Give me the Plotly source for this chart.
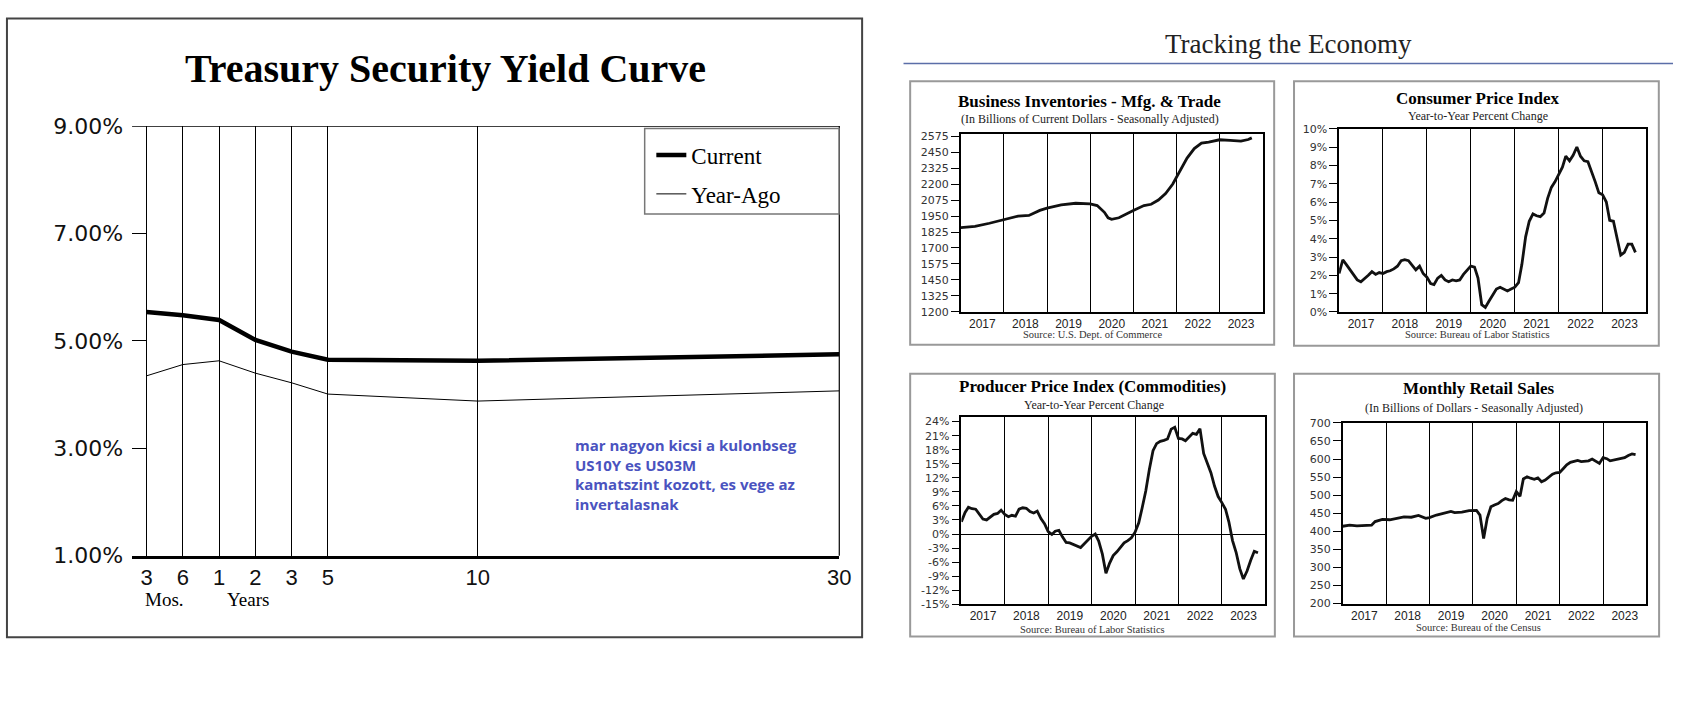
import plotly.graph_objects as go

W, H = 1685, 706


def px(x):
    return x / W


def py(y):
    return 1 - y / H


# ---- yield curve data
maturity_labels = ['3', '6', '1', '2', '3', '5', '10', '30']
maturity_slots = [0, 1, 2, 3, 4, 5, 9.13, 19.1]   # spacing of the original (non linear) maturity axis
yield_current = [5.54, 5.48, 5.39, 5.02, 4.80, 4.65, 4.63, 4.75]
yield_year_ago = [4.35, 4.56, 4.63, 4.40, 4.22, 4.01, 3.88, 4.07]
yield_ticks = [1, 3, 5, 7, 9]

# ---- tracking the economy
year_labels = ['2017', '2018', '2019', '2020', '2021', '2022', '2023']
year_mid = [y + '-07-02' for y in year_labels]
year_starts = [y + '-01-01' for y in year_labels[1:]]

inv_ticks = list(range(1200, 2576, 125))
cpi_ticks = list(range(0, 11))
ppi_ticks = list(range(-15, 25, 3))
retail_ticks = list(range(200, 701, 50))

inv_dates = ['2017-01', '2017-05', '2017-09', '2018-01', '2018-05', '2018-08', '2018-11',
             '2019-01', '2019-05', '2019-09', '2020-01', '2020-03', '2020-05', '2020-06',
             '2020-07', '2020-09', '2020-11', '2021-01', '2021-04', '2021-06', '2021-08',
             '2021-10', '2021-12', '2022-02', '2022-04', '2022-06', '2022-08', '2022-10',
             '2023-01', '2023-04', '2023-07', '2023-09', '2023-10']
inv_values = [1860, 1870, 1894, 1925, 1950, 1955, 1995,
              2013, 2038, 2051, 2046, 2033, 1980, 1937,
              1925, 1937, 1968, 1995, 2033, 2043, 2076,
              2127, 2202, 2309, 2405, 2480, 2523, 2531,
              2549, 2544, 2538, 2551, 2564]

monthly = [f'{y}-{m:02d}' for y in range(2017, 2024) for m in range(1, 13)]

cpi_dates = monthly[:82]
cpi_values = [2.1, 2.85, 2.6, 2.3, 2.0, 1.75, 1.65, 1.8, 2.0, 2.2, 2.05, 2.15,
              2.1, 2.2, 2.25, 2.35, 2.5, 2.8, 2.85, 2.8, 2.55, 2.3, 2.5, 2.1,
              1.9, 1.55, 1.5, 1.85, 2.0, 1.75, 1.65, 1.75, 1.7, 1.75, 2.05, 2.3,
              2.5, 2.45, 1.85, 0.4, 0.25, 0.6, 0.95, 1.25, 1.35, 1.25, 1.15, 1.25,
              1.35, 1.6, 2.6, 4.1, 4.95, 5.35, 5.25, 5.2, 5.4, 6.2, 6.8, 7.1,
              7.5, 7.9, 8.5, 8.25, 8.55, 9.0, 8.5, 8.25, 8.2, 7.7, 7.1, 6.5,
              6.4, 6.0, 5.0, 4.95, 4.1, 3.1, 3.25, 3.7, 3.7, 3.25]

ppi_dates = monthly[:83]
ppi_values = [2.6, 4.6, 5.7, 5.4, 5.3, 4.2, 3.2, 3.0, 3.7, 4.2, 4.4, 5.1,
              4.2, 3.7, 4.0, 3.8, 5.3, 5.6, 5.5, 4.8, 4.5, 4.9, 3.3, 2.2,
              0.5, -0.1, 0.6, 0.8, -0.6, -1.8, -1.9, -2.2, -2.6, -2.9, -2.1, -1.2,
              -0.5, 0.0, -1.5, -4.3, -8.4, -6.2, -4.6, -3.8, -2.8, -1.9, -1.4, -0.8,
              0.4, 2.4, 5.5, 9.2, 13.8, 17.8, 19.3, 19.8, 20.0, 20.3, 22.4, 22.8,
              20.4, 20.3, 19.9, 20.8, 21.5, 21.3, 22.5, 17.2, 15.3, 13.1, 10.2, 8.0,
              6.7, 5.3, 2.6, -1.4, -3.9, -7.4, -9.6, -7.9, -5.6, -3.7, -4.0]

retail_dates = ['2017-01', '2017-03', '2017-05', '2017-07', '2017-09', '2017-10', '2017-12',
                '2018-02', '2018-04', '2018-06', '2018-08', '2018-10', '2018-12',
                '2019-01', '2019-03', '2019-05', '2019-07', '2019-08', '2019-10', '2019-12',
                '2020-02', '2020-03', '2020-04', '2020-05', '2020-06', '2020-07', '2020-08',
                '2020-09', '2020-10', '2020-11', '2020-12',
                '2021-01', '2021-02', '2021-03', '2021-04', '2021-05', '2021-06', '2021-07',
                '2021-08', '2021-09', '2021-10', '2021-11', '2021-12',
                '2022-01', '2022-02', '2022-03', '2022-04', '2022-05', '2022-06', '2022-07',
                '2022-08', '2022-09', '2022-10', '2022-11', '2022-12',
                '2023-01', '2023-02', '2023-03', '2023-04', '2023-05', '2023-06', '2023-07',
                '2023-08', '2023-09', '2023-10']
retail_values = [414, 417, 415, 415, 417, 427, 433,
                 432, 436, 440, 439, 444, 436,
                 438, 445, 449, 455, 452, 453, 457,
                 458, 445, 380, 436, 468, 473, 477,
                 485, 491, 487, 486,
                 510, 497, 545, 551, 547, 544, 548,
                 537, 542, 551, 558, 562,
                 563, 574, 584, 591, 594, 596, 593,
                 595, 595, 600, 593, 588,
                 604, 601, 595, 597, 598, 600, 604,
                 610, 614, 612]

fig = go.Figure()

# yield curve lines
fig.add_trace(go.Scatter(x=maturity_slots, y=yield_current, mode='lines', name='Current',
                         line=dict(color='black', width=4.5), legendgroup='a',
                         xaxis='x', yaxis='y'))
fig.add_trace(go.Scatter(x=maturity_slots, y=yield_year_ago, mode='lines', name='Year-Ago',
                         line=dict(color='black', width=1), legendgroup='b',
                         xaxis='x', yaxis='y'))

small = [
    (inv_dates, inv_values, 2),
    (cpi_dates, cpi_values, 3),
    (ppi_dates, ppi_values, 4),
    (retail_dates, retail_values, 5),
]
for dts, vals, k in small:
    fig.add_trace(go.Scatter(x=dts, y=vals, mode='lines', showlegend=False,
                             line=dict(color='#111', width=2.8),
                             xaxis='x%d' % k, yaxis='y%d' % k))

tick_font = dict(family='DejaVu Sans', size=11, color='#333')
year_font = dict(family='Liberation Sans', size=12, color='#222')


def year_axis(dom, anchor):
    return dict(domain=[px(dom[0]), px(dom[1])], type='date', anchor=anchor,
                range=['2017-01-01', '2024-01-01'],
                tickmode='array', tickvals=year_mid, ticktext=year_labels,
                ticks='', showgrid=False, zeroline=False,
                showline=True, mirror=True, linecolor='black', linewidth=1.5,
                minor=dict(tickmode='array', tickvals=year_starts, showgrid=True,
                           gridcolor='black', gridwidth=1.2, ticks=''),
                tickfont=year_font)


def value_axis(dom, anchor, rng, vals, suffix=''):
    return dict(domain=[py(dom[1]), py(dom[0])], anchor=anchor, range=rng,
                tickmode='array', tickvals=vals, ticktext=[f'{v}{suffix}' for v in vals],
                ticks='outside', ticklen=8, tickcolor='black',
                showgrid=False, zeroline=False,
                showline=True, mirror=True, linecolor='black', linewidth=1.5,
                tickfont=tick_font)


layout = dict(
    width=W, height=H,
    margin=dict(l=0, r=0, t=0, b=0),
    paper_bgcolor='white', plot_bgcolor='white',
    showlegend=True,
    legend=dict(x=px(656), y=py(126), xanchor='left', yanchor='top',
                bgcolor='rgba(0,0,0,0)', borderwidth=0, tracegroupgap=6,
                font=dict(family='Liberation Serif', size=23, color='black'),
                itemwidth=30),
    xaxis=dict(domain=[px(133), px(845.3)], range=[-0.4, 19.1], anchor='y',
               tickmode='array', tickvals=maturity_slots, ticktext=maturity_labels,
               ticks='', showgrid=True, gridcolor='black', gridwidth=1, zeroline=False,
               showline=True, linecolor='black', linewidth=3,
               tickfont=dict(family='Liberation Sans', size=22, color='#111')),
    yaxis=dict(domain=[py(563.7), py(118.3)], range=[1, 9], anchor='x',
               tickmode='array', tickvals=yield_ticks,
               ticktext=[f'{v:.2f}%' for v in yield_ticks],
               ticks='inside', ticklen=15, tickcolor='black', ticklabelstandoff=8,
               showgrid=False, zeroline=False, showline=False,
               tickfont=dict(family='DejaVu Sans', size=22, color='#111')),
    xaxis2=year_axis((967.7, 1271.7), 'y2'),
    yaxis2=value_axis((126, 310.7), 'x2', [1200, 2598], inv_ticks),
    xaxis3=year_axis((1348.7, 1658.3), 'y3'),
    yaxis3=value_axis((121, 311), 'x3', [0, 10], cpi_ticks, '%'),
    xaxis4=year_axis((968.3, 1274.3), 'y4'),
    yaxis4=value_axis((420.3, 614), 'x4', [-15, 24.9], ppi_ticks, '%'),
    xaxis5=year_axis((1352.3, 1658.3), 'y5'),
    yaxis5=value_axis((426, 613.3), 'x5', [200, 700], retail_ticks),
)
layout['yaxis4'].update(zeroline=True, zerolinecolor='black', zerolinewidth=1.2)
fig.update_layout(**layout)

shapes = []
# left panel frame
shapes.append(dict(type='rect', xref='paper', yref='paper', x0=px(7), x1=px(868.3),
                   y0=py(648.3), y1=py(6.7), line=dict(color='#444', width=2)))
# top and right border of the yield plot
shapes.append(dict(type='line', xref='x domain', yref='y', x0=0, x1=1, y0=9, y1=9,
                   line=dict(color='black', width=1.2)))
shapes.append(dict(type='line', xref='x domain', yref='y domain', x0=1, x1=1, y0=0, y1=1,
                   line=dict(color='black', width=1.2)))
# legend box
shapes.append(dict(type='rect', xref='paper', yref='paper', x0=px(649.3), x1=px(845),
                   y0=py(209.3), y1=py(120.7), line=dict(color='#777', width=1.5),
                   fillcolor='white', layer='above'))
# header rule
shapes.append(dict(type='line', xref='paper', yref='paper', x0=px(910), x1=1,
                   y0=py(53.3), y1=py(53.3), line=dict(color='#5b6ea8', width=1.5)))
# small chart boxes
for x0, y0, x1, y1 in [(916.7, 71.7, 1283.3, 345), (1303.3, 71.7, 1670.7, 346),
                       (916.7, 375, 1284, 647.3), (1303.3, 375, 1671, 647.3)]:
    shapes.append(dict(type='rect', xref='paper', yref='paper', x0=px(x0), x1=px(x1),
                       y0=py(y1), y1=py(y0), line=dict(color='#999', width=2)))
fig.update_layout(shapes=shapes)


def note(text, x, y, size, family='Liberation Serif', color='black', weight='normal',
         xanchor='center', yanchor='middle', align='center'):
    fig.add_annotation(text=text, x=px(x), y=py(y), xref='paper', yref='paper',
                       showarrow=False, xanchor=xanchor, yanchor=yanchor, align=align,
                       font=dict(family=family, size=size, color=color, weight=weight))


note('Treasury Security Yield Curve', 449, 59, 40, weight='bold')
note('Mos.', 166, 609, 19)
note('Years', 250, 609, 19)
note('mar nagyon kicsi a kulonbseg<br>US10Y es US03M<br>kamatszint kozott, es vege az<br>invertalasnak',
     577, 436, 15, family='Open Sans', color='#4a53bf', weight='bold',
     xanchor='left', yanchor='top', align='left')

note('Tracking the Economy', 1298, 33, 27, color='#222')

note('Business Inventories - Mfg. & Trade', 1097.5, 92.3, 17, weight='bold')
note('(In Billions of Current Dollars - Seasonally Adjusted)', 1098, 111, 12, color='#222')
note('Source: U.S. Dept. of Commerce', 1100, 334, 10.5, color='#333')

note('Consumer Price Index', 1488.8, 89.3, 17, weight='bold')
note('Year-to-Year Percent Change', 1488.3, 108.3, 12, color='#222')
note('Source: Bureau of Labor Statistics', 1488, 334.5, 10.5, color='#333')

note('Producer Price Index (Commodities)', 1100.8, 388.3, 17, weight='bold')
note('Year-to-Year Percent Change', 1102, 407.3, 12, color='#222')
note('Source: Bureau of Labor Statistics', 1100.3, 640, 10.5, color='#333')

note('Monthly Retail Sales', 1489, 390.7, 17, weight='bold')
note('(In Billions of Dollars - Seasonally Adjusted)', 1485, 410.7, 12, color='#222')
note('Source: Bureau of the Census', 1489.5, 638.5, 10.5, color='#333')

# the page body has a default 8px margin; drop it so the figure fills the window exactly
fig.write_html("out.html", config={'displayModeBar': False},
               post_script="document.body.style.margin='0';")
